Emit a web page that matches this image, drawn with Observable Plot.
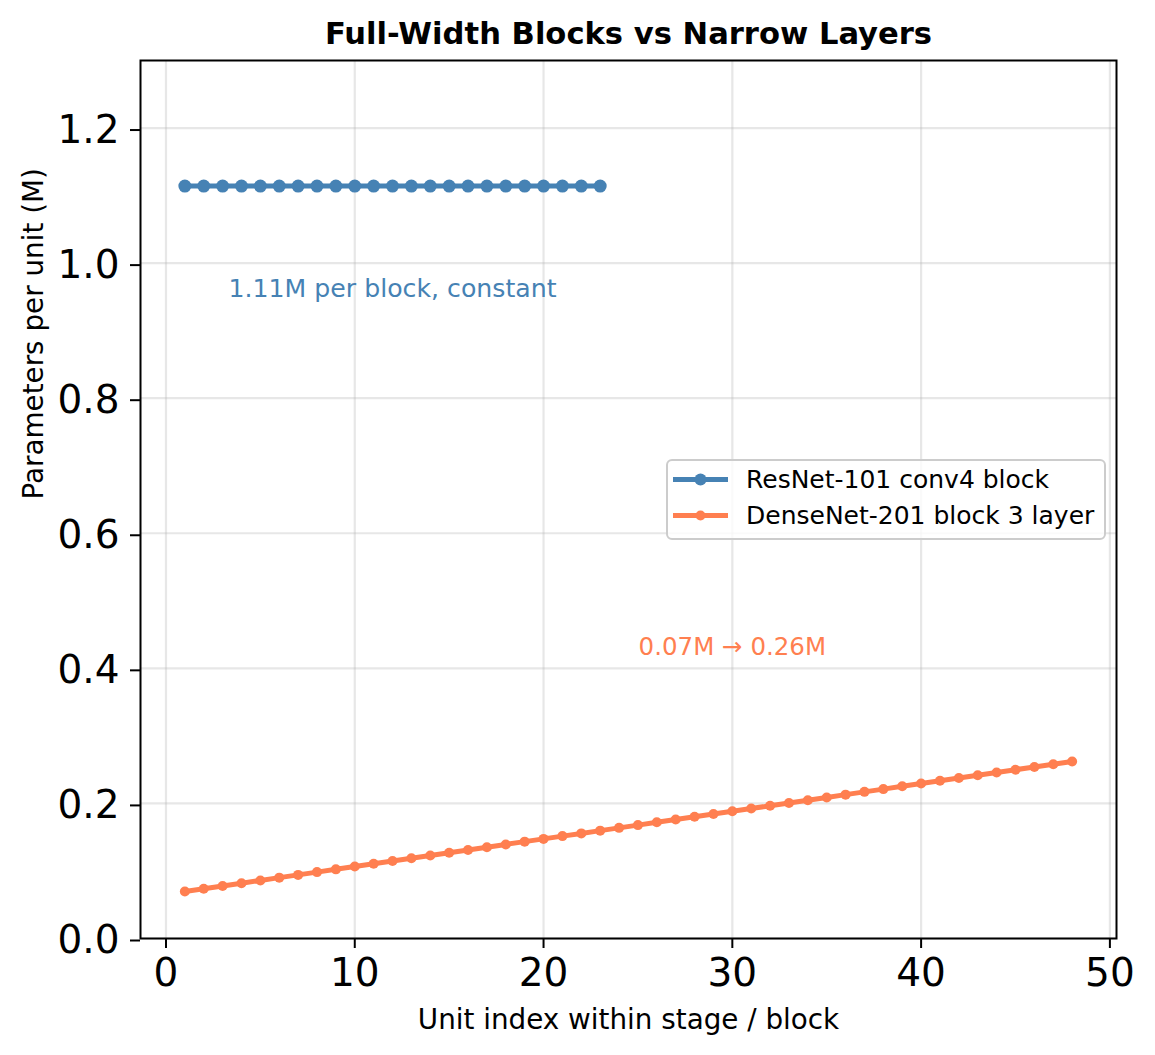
<!DOCTYPE html>
<html>
<head>
<meta charset="utf-8">
<script src="https://cdn.jsdelivr.net/npm/d3@7"></script>
<script src="https://cdn.jsdelivr.net/npm/@observablehq/plot@0.6"></script>
<style>
  html, body { margin: 0; padding: 0; background: #fff; }
</style>
</head>
<body>
<div id="chart"></div>
<script>
const titleText = "Full-Width Blocks vs Narrow Layers";
const xLabel = "Unit index within stage / block";
const yLabel = "Parameters per unit (M)";

const resnetName = "ResNet-101 conv4 block";
const densenetName = "DenseNet-201 block 3 layer";

const resnetUnits = [1,2,3,4,5,6,7,8,9,10,11,12,13,14,15,16,17,18,19,20,21,22,23];
const resnetParams = [1.114,1.114,1.114,1.114,1.114,1.114,1.114,1.114,1.114,1.114,1.114,1.114,
  1.114,1.114,1.114,1.114,1.114,1.114,1.114,1.114,1.114,1.114,1.114];

const densenetUnits = [1,2,3,4,5,6,7,8,9,10,11,12,13,14,15,16,17,18,19,20,21,22,23,24,
  25,26,27,28,29,30,31,32,33,34,35,36,37,38,39,40,41,42,43,44,45,46,47,48];
const densenetParams = [0.0696,0.0737,0.0778,0.0819,0.0860,0.0901,0.0942,0.0983,0.1024,0.1065,
  0.1106,0.1147,0.1188,0.1229,0.1270,0.1311,0.1352,0.1393,0.1434,0.1475,0.1516,0.1556,0.1597,
  0.1638,0.1679,0.1720,0.1761,0.1802,0.1843,0.1884,0.1925,0.1966,0.2007,0.2048,0.2089,0.2130,
  0.2171,0.2212,0.2253,0.2294,0.2335,0.2376,0.2417,0.2458,0.2499,0.2540,0.2580,0.2621];

const xTicks = [0, 10, 20, 30, 40, 50];
const yTicks = [0, 0.2, 0.4, 0.6, 0.8, 1.0, 1.2];

const annotations = [
  {x: 12, y: 0.95, text: "1.11M per block, constant", series: "resnet"},
  {x: 30, y: 0.42, text: "0.07M \u2192 0.26M", series: "densenet"}
];

const blue = "#4682B4";
const orange = "#FF7F50";

const resnet = resnetUnits.map((u, i) => ({unit: u, value: resnetParams[i]}));
const densenet = densenetUnits.map((u, i) => ({unit: u, value: densenetParams[i]}));

const chart = Plot.plot({
  width: 1155,
  height: 1055,
  marginLeft: 140,
  marginRight: 39,
  marginTop: 60,
  marginBottom: 117,
  style: {fontFamily: "DejaVu Sans", background: "#fff", color: "#000"},
  x: {domain: [-1.35, 50.35]},
  y: {domain: [0, 1.3]},
  marks: [
    Plot.gridX(xTicks, {stroke: "#b0b0b0", strokeOpacity: 0.3, strokeWidth: 2.2}),
    Plot.gridY(yTicks, {stroke: "#b0b0b0", strokeOpacity: 0.3, strokeWidth: 2.2}),
    Plot.axisX({ticks: xTicks, tickSize: 10, tickPadding: 10, fontSize: 39, strokeWidth: 2,
      tickFormat: d3.format("d"), label: null}),
    Plot.axisY({ticks: yTicks, tickSize: 10, tickPadding: 11, fontSize: 39, strokeWidth: 2,
      tickFormat: d3.format(".1f"), label: null, dy: 2}),
    Plot.line(resnet, {x: "unit", y: "value", stroke: blue, strokeWidth: 5}),
    Plot.dot(resnet, {x: "unit", y: "value", fill: blue, r: 6.5}),
    Plot.line(densenet, {x: "unit", y: "value", stroke: orange, strokeWidth: 5}),
    Plot.dot(densenet, {x: "unit", y: "value", fill: orange, r: 5}),
    Plot.text(annotations.filter(d => d.series === "resnet"), {x: "x", y: "y", text: "text",
      fill: blue, fontSize: 25.2, textAnchor: "middle", lineAnchor: "bottom"}),
    Plot.text(annotations.filter(d => d.series === "densenet"), {x: "x", y: "y", text: "text",
      fill: orange, fontSize: 24.5, textAnchor: "middle", lineAnchor: "bottom"}),
    Plot.frame({stroke: "#000", strokeWidth: 2}),
    Plot.text([titleText], {frameAnchor: "top", dy: -17, lineAnchor: "bottom",
      fontSize: 30.6, fontWeight: "bold", fill: "#000"}),
    Plot.text([xLabel], {frameAnchor: "bottom", dy: 90, lineAnchor: "bottom",
      fontSize: 27.8, fill: "#000"}),
    Plot.text([yLabel], {frameAnchor: "left", dx: -98, rotate: -90, lineAnchor: "bottom",
      fontSize: 27.8, fill: "#000"})
  ]
});

document.getElementById("chart").appendChild(chart);

// Legend
const svg = d3.select(chart);
const lg = svg.append("g").attr("font-family", "DejaVu Sans").attr("text-anchor", "start");
lg.append("rect").attr("x", 667).attr("y", 460).attr("width", 438).attr("height", 79)
  .attr("rx", 5).attr("fill", "#fff").attr("fill-opacity", 0.8)
  .attr("stroke", "#cccccc").attr("stroke-width", 2);
const entries = [
  {name: resnetName, color: blue, r: 6, y: 479.5, base: 488},
  {name: densenetName, color: orange, r: 5, y: 515.5, base: 524}
];
for (const e of entries) {
  lg.append("line").attr("x1", 673).attr("x2", 728).attr("y1", e.y).attr("y2", e.y)
    .attr("stroke", e.color).attr("stroke-width", 5);
  lg.append("circle").attr("cx", 700.5).attr("cy", e.y).attr("r", e.r).attr("fill", e.color);
  lg.append("text").attr("x", 746).attr("y", e.base).attr("font-size", 25)
    .attr("text-anchor", "start").attr("fill", "#000").text(e.name);
}
</script>
</body>
</html>
